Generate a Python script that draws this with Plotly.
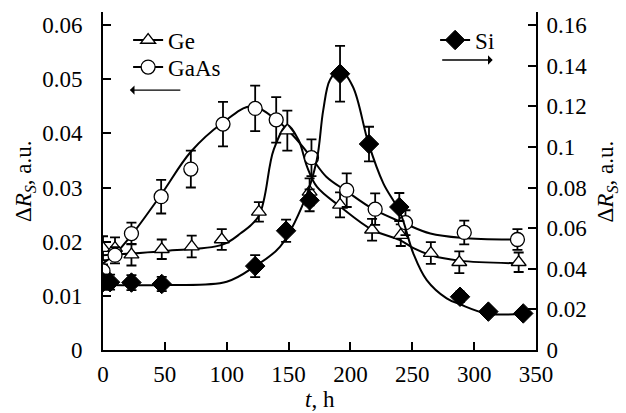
import plotly.graph_objects as go

# ---- data ----
t_ge = [0, 9.7, 23, 47.5, 71.7, 96, 126, 149, 167, 191.6, 217.5, 240.7, 265, 288, 336]
ge = [0.0188, 0.0188, 0.0176, 0.0186, 0.0191, 0.0204, 0.0255, 0.0405, 0.0292, 0.0268, 0.0222, 0.0212, 0.0179, 0.0162, 0.0162]
ge_err = [0.0022, 0.002, 0.002, 0.0018, 0.002, 0.0019, 0.0018, 0.0037, 0.0025, 0.0023, 0.002, 0.002, 0.002, 0.002, 0.0018]

t_gaas = [0, 9.7, 23, 47, 71, 97, 123, 140, 168.5, 197, 220, 244.5, 292, 335]
gaas = [0.0146, 0.0175, 0.0215, 0.0283, 0.0334, 0.0417, 0.0446, 0.0425, 0.0355, 0.0295, 0.0260, 0.0235, 0.0217, 0.0204]
gaas_err = [0.0012, 0.0015, 0.002, 0.0031, 0.0034, 0.0041, 0.0042, 0.0042, 0.0034, 0.0031, 0.0029, 0.0023, 0.0022, 0.0019]

t_si = [0, 5.7, 23, 47.5, 123, 148, 167, 191.6, 215, 239.5, 288.6, 311.5, 339.7]
si = [0.0334, 0.0334, 0.0332, 0.0325, 0.0413, 0.0587, 0.0737, 0.136, 0.1014, 0.0704, 0.0262, 0.0189, 0.018]
si_err = [0.0037, 0.0037, 0.0037, 0.0035, 0.0054, 0.0055, 0.0054, 0.0137, 0.0085, 0.0069, 0.0025, 0, 0]

# fitted curves
t_ge_fit = [0, 50, 96, 111, 126, 138, 149, 158, 165, 173, 191.6, 217.5, 240, 251, 265, 288, 336]
ge_fit = [0.0175, 0.0183, 0.0194, 0.0215, 0.0248, 0.037, 0.0415, 0.0388, 0.0338, 0.0301, 0.0265, 0.0222, 0.0203, 0.0188, 0.0175, 0.0165, 0.016]

t_gaas_fit = [0, 9.7, 23, 47, 71, 97, 120, 140, 154, 168.5, 180.5, 197, 218.5, 243.4, 264.6, 290, 335]
gaas_fit = [0.016, 0.0177, 0.0212, 0.0287, 0.0366, 0.042, 0.045, 0.0425, 0.0395, 0.0355, 0.032, 0.0293, 0.026, 0.0234, 0.0215, 0.0207, 0.0204]

t_si_fit = [0, 50, 100, 123, 143, 163, 172.8, 178, 183.5, 191.6, 202, 214.6, 226.6, 240.4, 250.8, 261.7, 277.8, 288.6, 310, 340]
si_fit = [0.032, 0.032, 0.0336, 0.0413, 0.0508, 0.0738, 0.0935, 0.118, 0.133, 0.1378, 0.1296, 0.1017, 0.082, 0.0673, 0.0476, 0.0344, 0.0254, 0.0225, 0.018, 0.0177]

x_ticks = [0, 50, 100, 150, 200, 250, 300, 350]
yl_ticks = [0, 0.01, 0.02, 0.03, 0.04, 0.05, 0.06]
yl_text = ["0", "0.01", "0.02", "0.03", "0.04", "0.05", "0.06"]
yr_ticks = [0, 0.02, 0.04, 0.06, 0.08, 0.10, 0.12, 0.14, 0.16]
yr_text = ["0", "0.02", "0.04", "0.06", "0.08", "0.1", "0.12", "0.14", "0.16"]

FONT = "'Liberation Serif', 'Times New Roman', Times, serif"
FS = 23
K = "black"

fig = go.Figure()

line_style = dict(color=K, width=2, shape="spline", smoothing=1.0)
fig.add_trace(go.Scatter(x=t_ge_fit, y=ge_fit, mode="lines", line=line_style, showlegend=False, hoverinfo="skip"))
fig.add_trace(go.Scatter(x=t_gaas_fit, y=gaas_fit, mode="lines", line=line_style, showlegend=False, hoverinfo="skip"))
fig.add_trace(go.Scatter(x=t_si_fit, y=si_fit, mode="lines", line=line_style, showlegend=False, hoverinfo="skip", yaxis="y2"))

err = lambda a: dict(type="data", array=a, visible=True, color=K, thickness=1.8, width=5)

m_ge = dict(symbol="triangle-up", size=13, color="white", line=dict(color=K, width=1.3))
m_gaas = dict(symbol="circle", size=14, color="white", line=dict(color=K, width=1.3))
m_si = dict(symbol="diamond", size=15, color=K, line=dict(color=K, width=1))

fig.add_trace(go.Scatter(x=t_ge, y=ge, mode="markers", error_y=err(ge_err), showlegend=False, marker=m_ge))
fig.add_trace(go.Scatter(x=t_gaas, y=gaas, mode="markers", error_y=err(gaas_err), showlegend=False, marker=m_gaas))
fig.add_trace(go.Scatter(x=t_si, y=si, mode="markers", error_y=err(si_err), showlegend=False, yaxis="y2", marker=m_si))

# legend entries
fig.add_trace(go.Scatter(x=[None], y=[None], mode="lines+markers", name="Ge", legend="legend",
                         line=dict(color=K, width=2), marker=m_ge))
fig.add_trace(go.Scatter(x=[None], y=[None], mode="lines+markers", name="GaAs", legend="legend3",
                         line=dict(color=K, width=2), marker=m_gaas))
fig.add_trace(go.Scatter(x=[None], y=[None], mode="lines+markers", name="Si", legend="legend2", yaxis="y2",
                         line=dict(color=K, width=2), marker=m_si))

axis_common = dict(showgrid=False, zeroline=False, showline=True, linecolor=K, linewidth=2,
                   ticks="inside", ticklen=8, tickwidth=2, tickcolor=K,
                   tickfont=dict(family=FONT, size=FS, color=K))

leg = lambda x, y: dict(x=x, y=y, xanchor="left", yanchor="middle", bgcolor="rgba(0,0,0,0)",
                        font=dict(family=FONT, size=FS, color=K), itemwidth=30)

fig.update_layout(
    width=626, height=413,
    margin=dict(l=103, r=90, t=12, b=63),
    paper_bgcolor="white", plot_bgcolor="white",
    font=dict(family=FONT, size=FS, color=K),
    xaxis=dict(range=[0, 350], tickvals=x_ticks, ticklabelstandoff=2, **axis_common),
    yaxis=dict(range=[0, 0.0624], tickvals=yl_ticks, ticktext=yl_text, ticklabelstandoff=14, **axis_common),
    yaxis2=dict(range=[0, 0.1664], tickvals=yr_ticks, ticktext=yr_text, overlaying="y", side="right",
                ticklabelstandoff=4, **axis_common),
    legend=leg(0.058, 0.917),
    legend3=leg(0.058, 0.837),
    legend2=leg(0.767, 0.917),
    showlegend=True,
)

fig.add_annotation(xref="paper", yref="paper", x=-0.18, y=0.5, xanchor="center", yanchor="middle",
                   textangle=-90, showarrow=False,
                   text="Δ<i>R</i><sub><i>S</i></sub>, a.u.", font=dict(family=FONT, size=FS, color=K))
fig.add_annotation(xref="paper", yref="paper", x=1.165, y=0.5, xanchor="center", yanchor="middle",
                   textangle=-90, showarrow=False,
                   text="Δ<i>R</i><sub><i>S</i></sub>, a.u.", font=dict(family=FONT, size=FS, color=K))
fig.add_annotation(xref="paper", yref="paper", x=0.5, y=-0.145, xanchor="center", yanchor="middle",
                   showarrow=False, text="<i>t</i>, h", font=dict(family=FONT, size=FS, color=K))

# direction arrows
fig.add_annotation(xref="paper", yref="paper", x=0.062, y=0.769, ax=52, ay=0, text="", showarrow=True,
                   arrowhead=1, arrowsize=1.2, arrowwidth=1.3, arrowcolor=K)
fig.add_annotation(xref="paper", yref="paper", x=0.90, y=0.858, ax=-52, ay=0, text="", showarrow=True,
                   arrowhead=1, arrowsize=1.2, arrowwidth=1.3, arrowcolor=K)

fig.write_html("out.html", config={"displayModeBar": False},
               post_script="document.body.style.margin='0';document.body.style.padding='0';")
